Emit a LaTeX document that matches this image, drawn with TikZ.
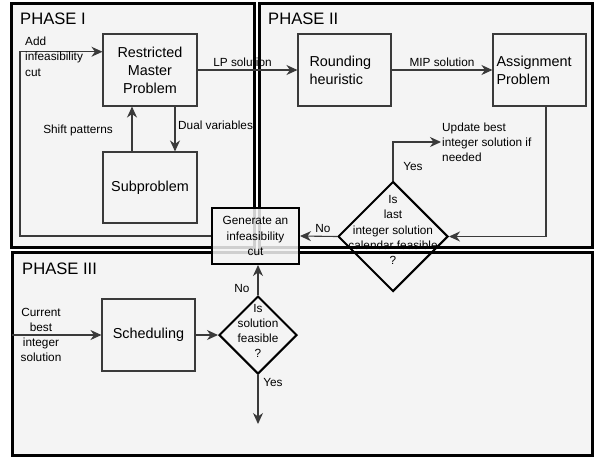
\documentclass[tikz,border=0pt]{standalone}
\usepackage{fontspec}
\setmainfont{Liberation Sans}
\usetikzlibrary{arrows.meta,shapes.geometric,calc}
\definecolor{phasefill}{HTML}{F4F4F4}
\definecolor{boxline}{HTML}{3A3A3A}
\begin{document}
\begin{tikzpicture}[x=1pt,y=-1pt,
  phase/.style={draw=black,line width=3pt,fill=phasefill},
  procbox/.style={draw=boxline,line width=1.1pt,fill=phasefill,inner sep=2pt,
    font=\fontsize{14.4}{18}\selectfont,align=center},
  decbox/.style={draw=black,line width=2pt,shape=diamond,inner sep=0pt,fill=none},
  small/.style={font=\fontsize{11.8}{15.2}\selectfont,align=center,inner sep=1pt},
  phaselabel/.style={font=\fontsize{16.6}{18}\selectfont,anchor=west,inner sep=0pt},
  arr/.style={draw=boxline,line width=1.1pt,-{Stealth[length=11pt,width=10pt,inset=3.5pt]}},
  conn/.style={draw=boxline,line width=1.1pt}]
\useasboundingbox (0,0) rectangle (594,458);
\fill[white] (0,0) rectangle (594,458);
% phase frames
\draw[phase] (11,3) rectangle (254,247);
\draw[phase] (259,3) rectangle (592.5,247);
\draw[phase] (12,252) rectangle (592.5,455);
\node[phaselabel] (p1) at (20,19) {PHASE I};
\node[phaselabel] (p2) at (268,19) {PHASE II};
\node[phaselabel] (p3) at (22,269) {PHASE III};
% boxes
\node[procbox,minimum width=94pt,minimum height=72pt] (rmp) at (150,70) {Restricted\\Master\\Problem};
\node[procbox,minimum width=94pt,minimum height=71pt] (sub) at (150,187.5) {Subproblem};
\node[procbox,minimum width=93pt,minimum height=72pt,text width=84pt,align=left] (round) at (344.5,70) {\raisebox{3pt}{\parbox[t]{84pt}{\hspace*{7pt}Rounding\\\hspace*{7pt}heuristic}}};
\node[procbox,minimum width=93pt,minimum height=72pt,text width=86pt,align=left] (assign) at (539.5,70) {Assignment\\Problem};
\node[procbox,minimum width=93pt,minimum height=72pt] (sched) at (148.5,335) {Scheduling};
% diamonds
\node[decbox,minimum size=110pt] (d2) at (393,236.5) {};
\node[small] (d2t) at (393,230) {Is\\last\\integer solution\\calendar feasible\\?};
\node[decbox,minimum size=78pt,fill=phasefill] (d1) at (258,335) {};
\node[small] (d1t) at (258,331) {Is\\solution\\feasible\\?};
% generate box on top
\node[draw=black,line width=2pt,fill=phasefill,fill opacity=0.85,text opacity=1,
  minimum width=87pt,minimum height=56pt,small] (gen) at (255.5,236) {Generate an\\infeasibility\\cut};
% connectors
\draw[arr] (gen.west) -- (20,236) |- ($(rmp.north west)!0.25!(rmp.south west)$);
\node[small,align=left,anchor=north west] (addl) at (24,36) {Add\\infeasibility\\cut};
\draw[arr] (rmp.east) -- (round.west) node[small,pos=0.45,above=2pt] (lpl) {LP solution};
\draw[arr] ($(rmp.south)+(25,0)$) -- ($(sub.north)+(25,0)$);
\node[small,anchor=west] (dual) at (177,125) {Dual variables};
\draw[arr] ($(sub.north)+(-18,0)$) -- ($(rmp.south)+(-18,0)$);
\node[small,anchor=east] (shift) at (114,130) {Shift patterns};
\draw[arr] (round.east) -- (assign.west) node[small,midway,above=2pt] (mipl) {MIP solution};
\draw[arr] ($(assign.south)+(6.5,0)$) |- (d2.east);
\node[small,align=left,anchor=west] (upd) at (441,142) {Update best\\integer solution if\\needed};
\draw[arr] (d2.north) |- (upd.west);
\node[small] (yes2) at (413,166) {Yes};
\draw[arr] (d2.west) -- (gen.east);
\node[small] (no2) at (323,228) {No};
\draw[arr] (sched.east) -- (d1.west);
\coordinate (curin) at (12,335);
\draw[arr] (curin) -- (sched.west);
\node[small] (cur) at (41,335) {Current\\best\\integer\\solution};
\draw[arr] (d1.north) -- (d1.north |- gen.south);
\node[small] (no1) at (242,288) {No};
\coordinate (yesend) at (258,424);
\draw[arr] (d1.south) -- (yesend);
\node[small] (yes1) at (273,382) {Yes};
\end{tikzpicture}
\end{document}
